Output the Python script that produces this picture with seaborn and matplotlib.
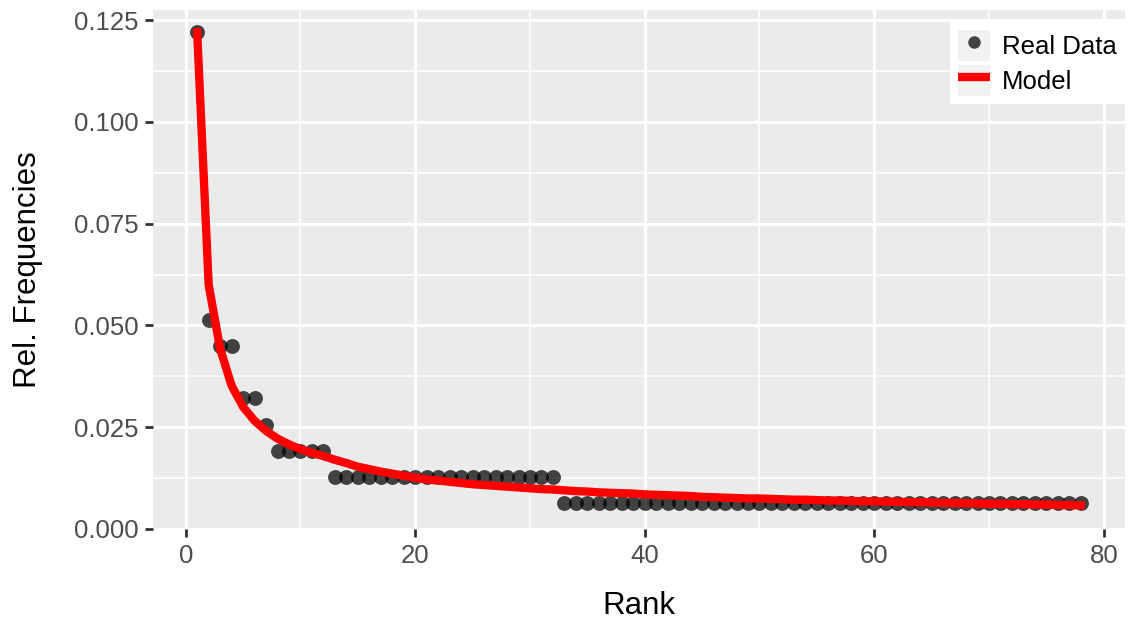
import numpy as np
import pandas as pd
import seaborn as sns
import matplotlib.pyplot as plt
from matplotlib.lines import Line2D
from matplotlib.patches import Rectangle
from matplotlib.legend_handler import HandlerTuple
from matplotlib.ticker import MultipleLocator

# observed relative frequencies by rank (ranks 1..78)
rank = list(range(1, 79))
real_freq = ([0.122, 0.0513, 0.0449, 0.0449, 0.0321, 0.0321, 0.0256]
             + [0.0192] * 5
             + [0.0128] * 20
             + [0.0064] * 46)

# fitted model curve at each rank
model_freq = [
    0.1220, 0.0600, 0.0443, 0.0352, 0.0300, 0.0266, 0.0241, 0.0222, 0.0208, 0.0196,
    0.0187, 0.0179, 0.0170, 0.0162, 0.0153, 0.0147, 0.0141, 0.0136, 0.0131, 0.0126,
    0.0122, 0.0119, 0.0116, 0.0113, 0.0110, 0.0108, 0.0106, 0.0104, 0.0102, 0.0100,
    0.0098, 0.0097, 0.0095, 0.0093, 0.0092, 0.0090, 0.0089, 0.0088, 0.0087, 0.0085,
    0.0084, 0.0083, 0.0082, 0.0081, 0.0079, 0.0078, 0.0077, 0.0076, 0.0075, 0.0075,
    0.0074, 0.0073, 0.0072, 0.0072, 0.0071, 0.0070, 0.0070, 0.0069, 0.0068, 0.0068,
    0.0067, 0.0067, 0.0066, 0.0066, 0.0065, 0.0064, 0.0064, 0.0063, 0.0063, 0.0062,
    0.0062, 0.0061, 0.0061, 0.0060, 0.0060, 0.0059, 0.0059, 0.0058,
]

df = pd.DataFrame({'rank': rank, 'real': real_freq, 'model': model_freq})

plt.rcParams['font.family'] = ['Liberation Sans', 'DejaVu Sans']

fig = plt.figure(figsize=(11.43, 6.23), dpi=100)
ax = fig.add_axes([153 / 1143, 1 - 529 / 623, (1125 - 153) / 1143, (529 - 10) / 623])
ax.set_facecolor('#EBEBEB')

sns.scatterplot(data=df, x='rank', y='real', ax=ax, color='black', alpha=0.72,
                s=115, linewidth=0, zorder=3)
sns.lineplot(data=df, x='rank', y='model', ax=ax, color='#FF0000', linewidth=6,
             zorder=4)

ax.set_xlim(-2.85, 81.85)
ax.set_ylim(0, 0.1275)
ax.xaxis.set_major_locator(MultipleLocator(20))
ax.xaxis.set_minor_locator(MultipleLocator(10))
ax.yaxis.set_major_locator(MultipleLocator(0.025))
ax.yaxis.set_minor_locator(MultipleLocator(0.0125))
ax.yaxis.set_major_formatter(plt.FormatStrFormatter('%.3f'))
ax.grid(which='major', color='white', linewidth=2.3, zorder=0)
ax.grid(which='minor', color='white', linewidth=1.1, zorder=0)
ax.set_axisbelow(True)
for sp in ax.spines.values():
    sp.set_visible(False)
ax.tick_params(which='major', length=6, width=2, color='#333333',
               labelcolor='#4D4D4D', labelsize=18.5, pad=4.5)
ax.tick_params(which='minor', length=0)

ax.set_xlabel('Rank', fontsize=22.5, color='black', labelpad=17)
ax.set_ylabel('Rel. Frequencies', fontsize=22.5, color='black', labelpad=22)

def key_bg():
    return Rectangle((0, 0), 1, 1, facecolor='#F2F2F2', edgecolor='none')

handles = [
    (key_bg(), Line2D([], [], marker='o', linestyle='none', color='black',
                      alpha=0.72, markersize=9, markeredgewidth=0)),
    (key_bg(), Line2D([], [], color='#FF0000', linewidth=6,
                      solid_capstyle='butt')),
]
leg = ax.legend(handles, ['Real Data', 'Model'], loc='upper right',
                bbox_to_anchor=(1.0, 0.977), fontsize=18.5, frameon=True,
                facecolor='white', edgecolor='none', framealpha=1,
                fancybox=False, handlelength=1.25, handleheight=1.45,
                handletextpad=0.45, borderpad=0.32, labelspacing=0.18,
                borderaxespad=0,
                handler_map={tuple: HandlerTuple(ndivide=1, pad=0)})

fig.savefig('out.png', dpi=100)
